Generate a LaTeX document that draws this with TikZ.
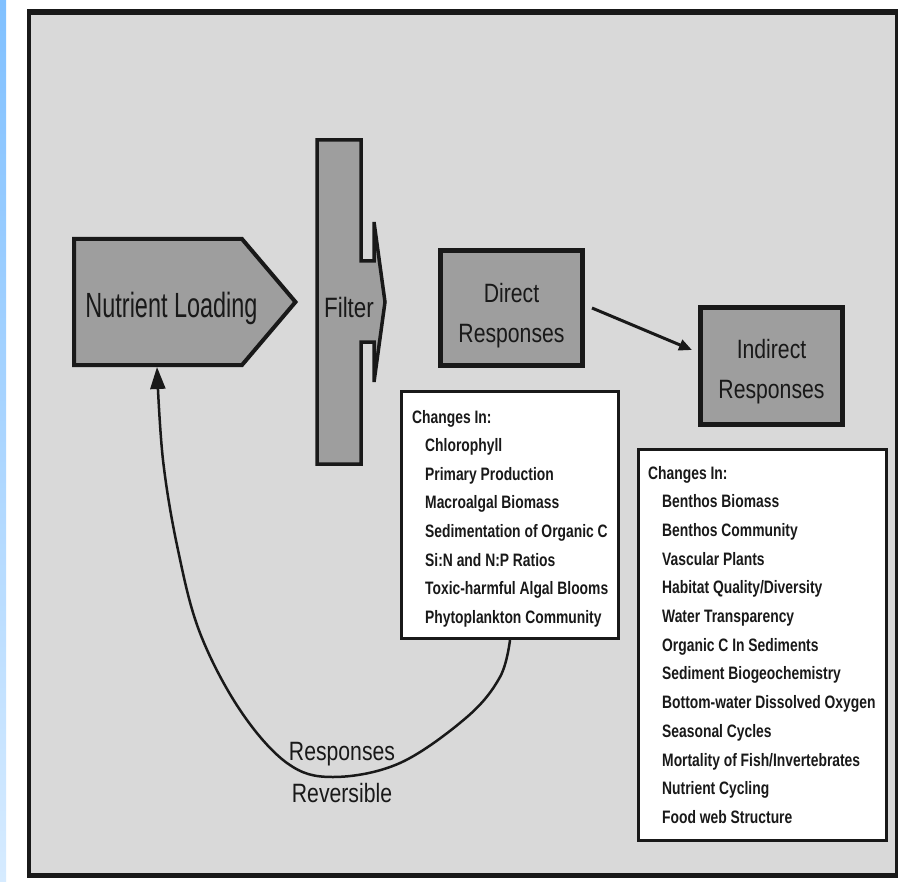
\documentclass[tikz,border=0pt]{standalone}
\usepackage{fontspec}
\setmainfont{Liberation Sans}
\newfontfamily\nlfont[FakeStretch=0.67]{Liberation Sans}
\newfontfamily\boxfont[FakeStretch=0.8]{Liberation Sans}
\newfontfamily\listfont[FakeStretch=0.77]{Liberation Sans}
\usetikzlibrary{arrows.meta,calc}
\definecolor{bg}{RGB}{217,217,217}
\definecolor{boxgrey}{RGB}{158,158,158}
\definecolor{ink}{RGB}{25,25,25}
\definecolor{bluetop}{RGB}{128,192,255}
\definecolor{bluebot}{RGB}{214,235,255}
\begin{document}
\begin{tikzpicture}[x=1pt,y=-1pt,
  greybox/.style={draw=ink,fill=boxgrey,line width=5pt,minimum width=142pt,inner sep=0pt},
  listbox/.style={draw=ink,fill=white,line width=3pt,inner sep=0pt},
  boxtxt/.style={font=\boxfont\fontsize{26.5}{30}\selectfont,text=ink,anchor=base,inner sep=0pt},
  listtxt/.style={font=\listfont\bfseries\fontsize{18}{20}\selectfont,text=ink,anchor=base west,inner sep=0pt},
  conn/.style={draw=ink,line width=3pt,-{Triangle[length=13pt,width=11pt]}},
  loopline/.style={draw=ink,line width=2.5pt,-{Triangle[length=22pt,width=15pt]}},
  shapeline/.style={draw=ink,fill=boxgrey,line join=miter}]
\useasboundingbox (0,0) rectangle (909,882);
\fill[white] (0,0) rectangle (909,882);
\shade[top color=bluetop,bottom color=bluebot] (0,0) rectangle (6,882);
% frame
\fill[ink] (27,9) rectangle (898,878);
\fill[bg] (30.5,15) rectangle (894.5,872.5);
% nutrient loading pentagon
\draw[shapeline,line width=4pt] (74,239) -- (242,239) -- (295.5,302) -- (242,365) -- (74,365) -- cycle;
\coordinate (nlb) at (157,367);
\node[boxtxt,font=\nlfont\fontsize{35}{40}\selectfont] (nltxt) at (171.5,317) {Nutrient Loading};
% filter
\draw[shapeline,line width=3.5pt] (317,140) -- (361,140) -- (361,261) -- (374,261) -- (374,222) -- (385,302) -- (374,382) -- (374,342) -- (361,342) -- (361,464) -- (317,464) -- cycle;
\node[boxtxt,font=\boxfont\fontsize{28}{32}\selectfont] (ftxt) at (349,317) {Filter};
% response boxes
\node[greybox,minimum height=115pt] (dbox) at (511.5,308) {};
\node[boxtxt] (dt1) at (511.5,302) {Direct};
\node[boxtxt] (dt2) at (511.5,342) {Responses};
\node[greybox,minimum height=117pt] (ibox) at (771.5,366) {};
\node[boxtxt] (it1) at (771.5,358) {Indirect};
\node[boxtxt] (it2) at (771.5,398) {Responses};
\draw[conn] ([xshift=7pt]dbox.east) -- ([xshift=-6pt,yshift=16pt]ibox.west);
% lists
\node[listbox,minimum width=217pt,minimum height=247pt] (dlist) at (510,515) {};
\node[listtxt] (dh) at (412,423) {Changes In:};
\foreach \t [count=\i] in {Chlorophyll,Primary Production,Macroalgal Biomass,Sedimentation of Organic C,Si:N and N:P Ratios,Toxic-harmful Algal Blooms,Phytoplankton Community}
  \node[listtxt] (d\i) at (425,{423+28.6*\i}) {\t};
\node[listbox,minimum width=248pt,minimum height=391pt] (ilist) at (762.5,645) {};
\node[listtxt] (ih) at (648,479) {Changes In:};
\foreach \t [count=\i] in {Benthos Biomass,Benthos Community,Vascular Plants,Habitat Quality/Diversity,Water Transparency,Organic C In Sediments,Sediment Biogeochemistry,Bottom-water Dissolved Oxygen,Seasonal Cycles,Mortality of Fish/Invertebrates,Nutrient Cycling,Food web Structure}
  \node[listtxt] (i\i) at (662,{479+28.7*\i}) {\t};
% feedback loop
\draw[loopline] plot[smooth,tension=0.6] coordinates {(dlist.south) (500,677) (467,717) (400,763) (333,777) (287,763) (240,710) (200,633) (178,550) (163,460) (nlb)};
\node[boxtxt] (rr1) at (342,760) {Responses};
\node[boxtxt] (rr2) at (342,802) {Reversible};
\end{tikzpicture}
\end{document}
